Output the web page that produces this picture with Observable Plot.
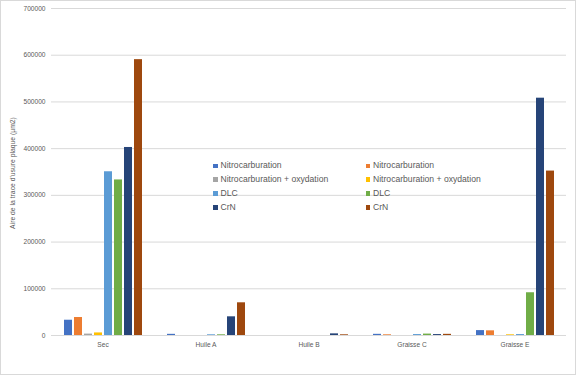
<!DOCTYPE html>
<html>
<head>
<meta charset="utf-8">
<script src="https://cdn.jsdelivr.net/npm/d3@7"></script>
<script src="https://cdn.jsdelivr.net/npm/@observablehq/plot@0.6"></script>
<style>
  html, body { margin: 0; padding: 0; background: #fff; }
  #wrap { position: relative; width: 576px; height: 375px; font-family: "Liberation Sans", Arial, sans-serif; color: #595959; overflow: hidden; }
  #wrap svg { position: absolute; left: 0; top: 0; }
  #border { position: absolute; left: 0; top: 0; width: 576px; height: 375px; box-sizing: border-box; border: 1px solid #d9d9d9; pointer-events: none; }
  #ytitle { position: absolute; left: 12px; top: 173px; transform: translate(-50%, -50%) rotate(-90deg); white-space: nowrap; font-size: 6.8px; }
  .leg { position: absolute; font-size: 8.6px; white-space: nowrap; line-height: 10px; }
  .leg span.sw { display: inline-block; width: 4.5px; height: 4.5px; margin-right: 3px; vertical-align: 0px; }
</style>
</head>
<body>
<div id="wrap"></div>
<script>
const categories = ["Sec", "Huile A", "Huile B", "Graisse C", "Graisse E"];
const seriesKeys = ["s0", "s1", "s2", "s3", "s4", "s5", "s6", "s7"];
const seriesNames = ["Nitrocarburation", "Nitrocarburation", "Nitrocarburation + oxydation", "Nitrocarburation + oxydation", "DLC", "DLC", "CrN", "CrN"];
const seriesColors = ["#4472C4", "#ED7D31", "#A5A5A5", "#FFC000", "#5B9BD5", "#70AD47", "#264478", "#9E480E"];

const nitroA   = [32700, 2500, 0, 2500, 10500];
const nitroB   = [38500, 0, 0, 1500, 10000];
const nitroOxA = [3000, 0, 0, 0, 0];
const nitroOxB = [5500, 0, 0, 0, 1500];
const dlcA     = [350500, 1500, 0, 2000, 2000];
const dlcB     = [333000, 1500, 0, 3000, 91500];
const crnA     = [402500, 40000, 3500, 2000, 508000];
const crnB     = [590500, 70000, 1500, 2500, 352000];
const seriesValues = [nitroA, nitroB, nitroOxA, nitroOxB, dlcA, dlcB, crnA, crnB];

const yTitle = "Aire de la trace d'usure plaque (µm2)";

const data = categories.flatMap((c, i) =>
  seriesKeys.map((k, j) => ({cat: c, key: k, value: seriesValues[j][i]}))
);

const chart = Plot.plot({
  width: 576,
  height: 375,
  marginLeft: 50,
  marginRight: 9,
  marginTop: 8,
  marginBottom: 40,
  style: {fontFamily: "'Liberation Sans', Arial, sans-serif", fontSize: "6.6px", color: "#595959", background: "transparent", overflow: "visible"},
  fx: {domain: categories, padding: 0, label: null, tickSize: 0, tickPadding: 7, axis: "bottom"},
  x: {type: "band", domain: seriesKeys, axis: null, paddingInner: 0.2, paddingOuter: 0.98},
  y: {domain: [0, 700000], ticks: 7, tickFormat: d3.format("d"), tickSize: 0, tickPadding: 6, label: null},
  color: {type: "ordinal", domain: seriesKeys, range: seriesColors},
  marks: [
    Plot.ruleY(d3.range(0, 700001, 100000), {stroke: "#d9d9d9", strokeWidth: 1}),
    Plot.barY(data, {fx: "cat", x: "key", y: "value", fill: "key"})
  ]
});

const wrap = document.getElementById("wrap");
wrap.appendChild(chart);

const yt = document.createElement("div");
yt.id = "ytitle";
yt.textContent = yTitle;
wrap.appendChild(yt);

// legend (inside plot area, two columns)
seriesNames.forEach((name, j) => {
  const col = j % 2, row = Math.floor(j / 2);
  const el = document.createElement("div");
  el.className = "leg";
  el.style.left = (col === 0 ? 213 : 365.5) + "px";
  el.style.top = (160 + row * 13.9) + "px";
  const sw = document.createElement("span");
  sw.className = "sw";
  sw.style.background = seriesColors[j];
  el.appendChild(sw);
  el.appendChild(document.createTextNode(name));
  wrap.appendChild(el);
});

const b = document.createElement("div");
b.id = "border";
wrap.appendChild(b);
</script>
</body>
</html>
